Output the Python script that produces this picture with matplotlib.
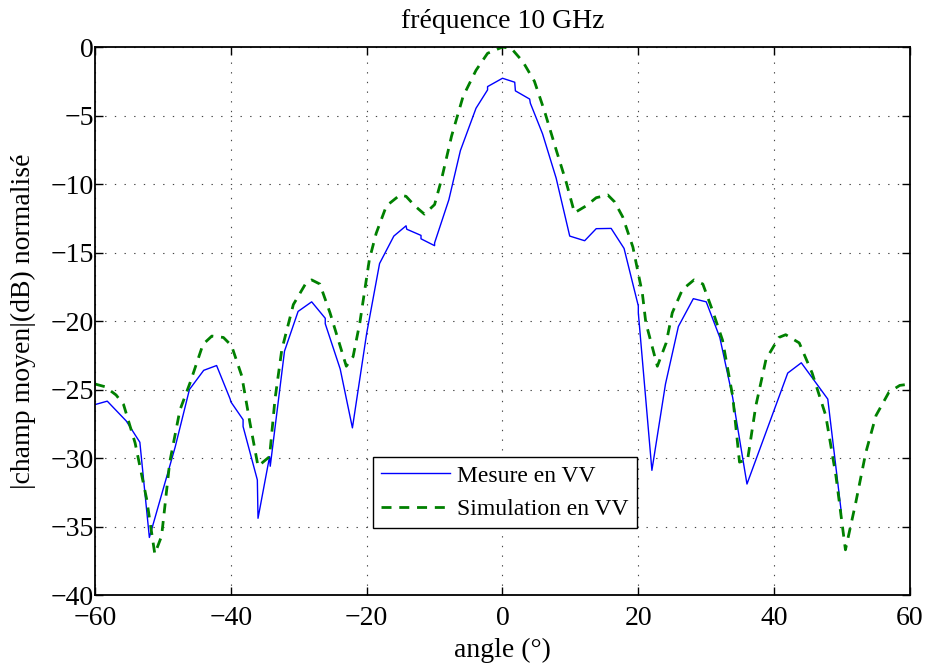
import matplotlib
matplotlib.use('Agg')
import matplotlib.pyplot as plt

#  Measured field (blue)
mesure_angle = [-60, -58.2, -55.4, -53.4, -52.0, -48.2, -46.1, -44.0, -42.1, -40.1, -40.0,
                -38.2, -38.2, -36.1, -36.0, -34.3, -34.2, -32.1, -30.1, -28.1, -26.1, -26.1,
                -23.9, -22.1, -20.0, -18.1, -16.0, -14.2, -14.1, -12.0, -12.0, -10.0, -10.0,
                -7.9, -6.2, -3.9, -2.2, -2.2, 0.0, 1.8, 1.9, 4.0, 4.1, 5.9, 7.9, 9.9,
                12.1, 13.8, 16.0, 17.9, 20.0, 20.0, 22.0, 24.0, 25.9, 28.1, 30.0, 32.0,
                33.9, 36.0, 42.0, 44.0, 47.9, 49.9]
mesure_db = [-26.1, -25.85, -27.3, -28.85, -35.8, -29.2, -25.0, -23.6, -23.25, -25.7, -25.9,
             -27.2, -27.7, -31.6, -34.4, -29.9, -30.6, -22.2, -19.3, -18.6, -19.8, -20.2,
             -23.5, -27.8, -20.9, -15.8, -13.8, -13.05, -13.3, -13.75, -14.0, -14.5, -14.3,
             -11.15, -7.56, -4.47, -3.13, -2.89, -2.28, -2.57, -3.2, -3.8, -4.1, -6.34, -9.57,
             -13.8, -14.14, -13.26, -13.24, -14.7, -18.9, -19.4, -30.9, -24.6, -20.4, -18.37,
             -18.6, -21.2, -25.6, -31.9, -23.8, -23.05, -25.7, -34.0]

#  Simulated field (green dashed)
simu_angle = [-60, -58.5, -56.9, -55.8, -54.1, -52.4, -51.2, -50.2, -49.0, -47.5, -46.0, -44.1,
              -42.8, -41.1, -39.9, -38.4, -37.2, -36.0, -34.3, -33.5, -32.5, -30.8, -28.9,
              -28.1, -26.9, -25.4, -23.0, -22.0, -21.0, -19.6, -18.6, -17.1, -15.1, -14.2,
              -12.9, -11.5, -10.0, -9.0, -7.5, -5.8, -3.9, -2.2, 0.0, 1.3, 3.0, 4.7, 6.2,
              7.9, 9.4, 10.6, 12.3, 13.8, 15.5, 16.5, 17.7, 19.2, 20.6, 21.1, 22.8, 24.1,
              25.0, 26.5, 28.2, 29.5, 30.9, 32.4, 33.9, 34.9, 36.1, 37.3, 38.8, 40.7, 41.7,
              43.7, 45.6, 47.6, 49.1, 50.5, 52.0, 53.5, 55.0, 56.9, 58.5, 60]
simu_db = [-24.6, -24.8, -25.4, -26.1, -28.9, -33.0, -37.0, -35.7, -30.3, -26.5, -24.5, -21.7,
           -21.1, -21.2, -21.8, -24.0, -27.4, -30.6, -29.9, -25.7, -22.1, -18.8, -17.2,
           -17.0, -17.3, -19.4, -23.3, -22.6, -20.1, -15.5, -13.6, -11.6, -10.8, -10.9,
           -11.6, -12.2, -11.5, -9.7, -6.5, -3.6, -1.7, -0.46, 0.0, -0.1, -1.07, -2.5, -4.7,
           -7.5, -9.9, -12.1, -11.6, -11.0, -10.8, -11.3, -12.4, -14.6, -18.0, -20.1, -23.3,
           -21.6, -19.4, -17.7, -17.0, -17.3, -19.2, -21.4, -25.5, -30.3, -30.1, -26.2,
           -22.8, -21.2, -21.0, -21.6, -23.8, -26.9, -31.3, -36.7, -33.3, -29.6, -26.9,
           -25.2, -24.7, -24.6]

x_ticks = [-60, -40, -20, 0, 20, 40, 60]
y_ticks = [-40, -35, -30, -25, -20, -15, -10, -5, 0]

plt.rcParams['font.family'] = ['Liberation Serif', 'DejaVu Serif']

fig = plt.figure(figsize=(9.29, 6.66), dpi=100)
ax = fig.add_axes([0.1023, 0.1066, 0.8772, 0.8228])

ax.plot(mesure_angle, mesure_db, color='#0000ff', lw=1.0, label='Mesure en VV')
ax.plot(simu_angle, simu_db, color='#008000', lw=2.0, linestyle=(0, (3.6, 2.8)),
        label='Simulation en VV')

#  Axes setup (matlab like)
ax.set_xlim(-60, 60)
ax.set_ylim(-40, 0)
ax.set_xticks(x_ticks)
ax.set_yticks(y_ticks)
ax.set_xticklabels(['\u2212%d' % -t if t < 0 else '%d' % t for t in x_ticks])
ax.set_yticklabels(['\u2212%d' % -t if t < 0 else '%d' % t for t in y_ticks])
ax.tick_params(direction='in', length=6, width=1, top=True, right=True, labelsize=20)
ax.tick_params(axis='x', pad=8)
ax.tick_params(axis='y', pad=1)
ax.grid(True, color='#444444', linestyle=(0, (1.2, 7.5)), linewidth=0.8)
for spine in ax.spines.values():
    spine.set_linewidth(1.3)

ax.set_title('fréquence 10 GHz', fontsize=20, pad=14)
ax.set_xlabel('angle (°)', fontsize=20, labelpad=5)
ax.set_ylabel('|champ moyen|(dB) normalisé', fontsize=20, labelpad=10)

leg = ax.legend(loc='lower left', bbox_to_anchor=(0.341, 0.122), borderaxespad=0,
                fontsize=17, handlelength=2.9, handletextpad=0.3, labelspacing=0.5,
                borderpad=0.35, fancybox=False, framealpha=1)
leg.get_frame().set_edgecolor('black')
leg.get_frame().set_linewidth(1.0)

fig.savefig('out.png', dpi=100)
